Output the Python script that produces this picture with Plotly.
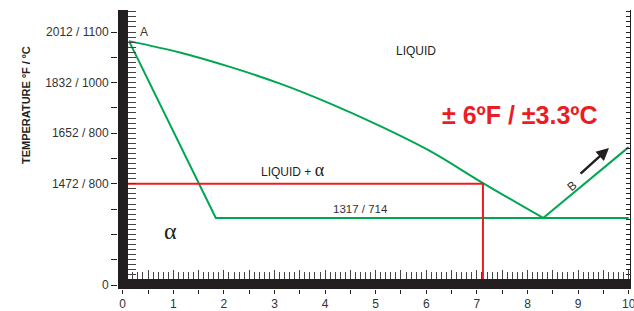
import plotly.graph_objects as go

# ---- data (composition in wt%, temperature in axis steps) ----
liquidus_x = [0.125, 1.13, 2.12, 3.11, 4.09, 5.08, 6.07, 7.12, 8.31]
liquidus_y = [9.64, 9.19, 8.62, 7.96, 7.18, 6.29, 5.30, 4.03, 2.65]
right_liquidus_x = [8.31, 10.0]
right_liquidus_y = [2.65, 5.45]
solidus_x = [0.125, 1.84, 10.0]
solidus_y = [9.64, 2.65, 2.65]
red_x = [0.0, 7.12, 7.12]
red_y = [4.0, 4.0, 0.0]

y_tickvals = [0, 1, 2, 3, 4, 5, 6, 7, 8, 9, 10]
y_ticktext = ["0", "", "", "", "1472 / 800", "", "1652 / 800", "", "1832 / 1000", "", "2012 / 1100"]
x_tickvals = [i * 0.5 for i in range(21)]
x_ticktext = [str(int(v)) if v == int(v) else "" for v in x_tickvals]

GREEN = "#00a651"
RED = "#ed1c24"
BLACK = "#231f20"
TXT = "#333333"
SANS = "Arial, Liberation Sans, sans-serif"
SERIF = "Liberation Serif, Times New Roman, serif"

XR = [-0.093, 10.026]
YR = [-0.158, 10.87]

fig = go.Figure()
fig.add_trace(go.Scatter(x=liquidus_x, y=liquidus_y, mode="lines", line=dict(color=GREEN, width=2, shape="spline", smoothing=1.0), hoverinfo="skip"))
fig.add_trace(go.Scatter(x=right_liquidus_x, y=right_liquidus_y, mode="lines", line=dict(color=GREEN, width=2), hoverinfo="skip"))
fig.add_trace(go.Scatter(x=solidus_x, y=solidus_y, mode="lines", line=dict(color=GREEN, width=2), hoverinfo="skip"))
fig.add_trace(go.Scatter(x=red_x, y=red_y, mode="lines", line=dict(color=RED, width=2), hoverinfo="skip"))
# helper traces for the overlay tick axes
fig.add_trace(go.Scatter(x=[None], y=[None], xaxis="x2", yaxis="y2", hoverinfo="skip"))
fig.add_trace(go.Scatter(x=[None], y=[None], xaxis="x", yaxis="y3", hoverinfo="skip"))

# thick black spines
fig.add_shape(type="rect", xref="x", yref="y", x0=XR[0], x1=0.105, y0=YR[0], y1=YR[1], fillcolor=BLACK, line_width=0, layer="above")
fig.add_shape(type="rect", xref="x", yref="y", x0=XR[0], x1=XR[1], y0=YR[0], y1=0.237, fillcolor=BLACK, line_width=0, layer="above")

ann = [
    dict(x=0.42, y=10.0, text="A", font=dict(family=SANS, size=12, color=TXT)),
    dict(x=5.80, y=9.25, text="LIQUID", font=dict(family=SANS, size=12, color=BLACK)),
    dict(x=3.37, y=4.53, text="LIQUID + <span style='font-family:Liberation Serif,Times New Roman,serif;font-size:18px'>α</span>",
         font=dict(family=SANS, size=12, color=BLACK)),
    dict(x=4.69, y=3.0, text="1317 / 714", font=dict(family=SANS, size=11.5, color=TXT)),
    dict(x=0.94, y=2.13, text="α", font=dict(family=SERIF, size=24, color=BLACK)),
    dict(x=7.85, y=6.72, text="<b>± 6ºF / ±3.3ºC</b>", font=dict(family=SANS, size=25, color=RED)),
    dict(x=8.88, y=3.91, text="B", textangle=-40, font=dict(family=SANS, size=12, color=TXT)),
    dict(xref="paper", yref="paper", x=-0.195, y=0.66, text="<b>TEMPERATURE ºF / ºC</b>", textangle=-90,
         font=dict(family=SANS, size=11, color=BLACK)),
]
for a in ann:
    a.setdefault("xref", "x")
    a.setdefault("yref", "y")
    a["showarrow"] = False
    fig.add_annotation(**a)

fig.add_annotation(x=9.61, y=5.42, ax=9.02, ay=4.35, axref="x", ayref="y", xref="x", yref="y",
                   text="", showarrow=True, arrowhead=2, arrowsize=1, arrowwidth=2.5, arrowcolor=BLACK)

fig.update_layout(
    width=634, height=311,
    margin=dict(l=118, r=4, t=10, b=22),
    paper_bgcolor="white", plot_bgcolor="white",
    showlegend=False,
    xaxis=dict(range=XR, tickmode="array", tickvals=x_tickvals, ticktext=x_ticktext,
               ticks="outside", ticklen=4, tickcolor=BLACK, tickwidth=1, automargin=False,
               ticklabeloverflow="allow",
               showgrid=False, zeroline=False, showline=False,
               tickfont=dict(family=SANS, size=12, color=TXT)),
    xaxis2=dict(range=XR, overlaying="x", anchor="y", side="bottom", automargin=False,
                ticks="inside", tick0=0, dtick=0.5, ticklen=19, tickcolor="#444", tickwidth=1,
                minor=dict(ticks="inside", dtick=0.1, ticklen=17, tickcolor="#444", tickwidth=1),
                showticklabels=False, showgrid=False, zeroline=False, showline=False),
    yaxis=dict(range=YR, tickmode="array", tickvals=y_tickvals, ticktext=y_ticktext,
               ticks="outside", ticklen=6, tickcolor=BLACK, tickwidth=1, automargin=False,
               showgrid=False, zeroline=False, showline=False,
               tickfont=dict(family=SANS, size=12, color=TXT)),
    yaxis2=dict(range=YR, overlaying="y", anchor="x", side="left", automargin=False,
                ticks="inside", tick0=0, dtick=0.2, ticklen=18, tickcolor="#444", tickwidth=1,
                showticklabels=False, showgrid=False, zeroline=False, showline=False),
    yaxis3=dict(range=YR, overlaying="y", anchor="x", side="right", automargin=False,
                ticks="inside", tick0=0, dtick=0.2, ticklen=4, tickcolor=BLACK, tickwidth=1,
                showticklabels=False, showgrid=False, zeroline=False,
                showline=True, linecolor=BLACK, linewidth=1),
)

fig.write_html("out.html", config={"displayModeBar": False},
               post_script="document.body.style.margin='0px';")
